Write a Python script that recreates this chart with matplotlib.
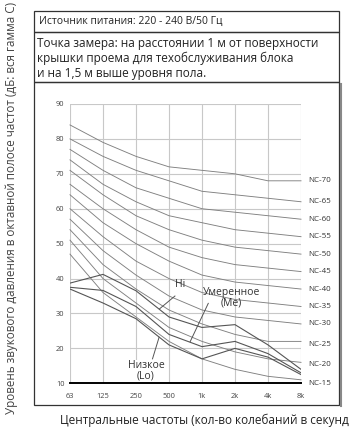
import numpy as np
import matplotlib
matplotlib.use("Agg")
from matplotlib import pyplot as plt
from matplotlib.patches import Rectangle
from matplotlib.lines import Line2D

plt.rcParams['font.family'] = ['Open Sans', 'DejaVu Sans']

# octave band centre frequencies
freq_labels = ["63", "125", "250", "500", "1k", "2k", "4k", "8k"]
y_ticks = [10, 20, 30, 40, 50, 60, 70, 80, 90]

# NC reference curves (dB)
nc_names = ["NC-70", "NC-65", "NC-60", "NC-55", "NC-50", "NC-45",
            "NC-40", "NC-35", "NC-30", "NC-25", "NC-20", "NC-15"]
nc_70 = [84, 79, 75, 72, 71, 70, 68, 68]
nc_65 = [80, 75, 71, 68, 65, 64, 63, 62]
nc_60 = [77, 71, 66, 63, 60, 59, 58, 57]
nc_55 = [74, 67, 62, 58, 56, 54, 53, 52]
nc_50 = [71, 64, 58, 54, 51, 49, 48, 47]
nc_45 = [67, 60, 54, 49, 46, 44, 43, 42]
nc_40 = [64, 56, 50, 45, 41, 39, 38, 37]
nc_35 = [60, 52, 45, 40, 36, 34, 33, 32]
nc_30 = [57, 48, 41, 35, 31, 29, 28, 27]
nc_25 = [54, 44, 37, 31, 27, 24, 22, 22]
nc_20 = [51, 40, 33, 26, 22, 19, 17, 16]
nc_15 = [47, 36, 29, 22, 17, 14, 12, 11]
nc_curves = [nc_70, nc_65, nc_60, nc_55, nc_50, nc_45,
             nc_40, nc_35, nc_30, nc_25, nc_20, nc_15]
# where the NC label sits vertically (slightly off the line end for the low ones)
nc_label_y = [68, 62, 57, 52, 47, 42, 37, 32, 27, 21, 15.5, 10]

# measured unit levels
hi_level = [38.7, 41.2, 36.5, 29, 26, 26.8, 21, 14]
me_level = [37.5, 36.6, 32, 24, 20.5, 22, 18.5, 13]
lo_level = [37, 33, 28.5, 21, 17, 20, 17.5, 12.5]

W, H = 349, 428
fig = plt.figure(figsize=(W / 100, H / 100), dpi=100)

def fx(px):
    return px / W

def fy(py):
    return 1 - py / H

# frame boxes
frame_col = "#333333"
for (y0, y1) in [(11, 32), (32, 82), (82, 405)]:
    fig.add_artist(Rectangle((fx(34), fy(y1)), fx(339) - fx(34), fy(y0) - fy(y1),
                             transform=fig.transFigure, fill=False,
                             edgecolor=frame_col, linewidth=0.9))
fig.add_artist(Line2D([fx(340.5), fx(340.5)], [fy(84), fy(406)],
                      transform=fig.transFigure, color="#888888", linewidth=1.5))

fig.text(fx(39), fy(21.5), "Источник питания: 220 - 240 В/50 Гц",
         fontsize=7.5, va="center", ha="left", color="#222222")
fig.text(fx(37), fy(58.5), "Точка замера: на расстоянии 1 м от поверхности\n"
         "крышки проема для техобслуживания блока\n"
         "и на 1,5 м выше уровня пола.",
         fontsize=8.5, va="center", ha="left", color="#222222", linespacing=1.18)

ax = fig.add_axes([fx(70), fy(383.3), fx(301) - fx(70), fy(104) - fy(383.3)])
x = np.arange(len(freq_labels))
ax.set_xlim(0, 7)
ax.set_ylim(10, 90)

for v in y_ticks:
    ax.axhline(v, color="#c8c8c8", linewidth=0.8, zorder=1)
for i in x:
    ax.axvline(i, color="#c8c8c8", linewidth=0.8, zorder=1)

for name, vals, ly in zip(nc_names, nc_curves, nc_label_y):
    ax.plot(x, vals, color="#808080", linewidth=0.65, zorder=2, clip_on=False)
    ax.text(7.22, ly, name, fontsize=5.8, va="center", ha="left", color="#333333")

for vals in [hi_level, me_level, lo_level]:
    ax.plot(x, vals, color="#555555", linewidth=0.8, zorder=3)

# series labels with leader lines
ax.text(3.33, 38.2, "Hi", fontsize=7.5, ha="center", va="center", color="#333333")
ax.plot([2.71, 3.18], [31.3, 35.0], color="#555555", linewidth=0.7)
ax.text(4.9, 34.4, "Умеренное\n(Me)", fontsize=7.5, ha="center", va="center",
        color="#333333", linespacing=0.95)
ax.plot([3.64, 4.19], [21.9, 32.9], color="#555555", linewidth=0.7)
ax.text(2.3, 13.6, "Низкое\n(Lo)", fontsize=7.5, ha="center", va="center",
        color="#333333", linespacing=0.95,
        bbox=dict(facecolor="white", edgecolor="none", pad=0.3))
ax.plot([2.5, 2.7], [17.0, 23.2], color="#555555", linewidth=0.7)

for s in ["top", "right", "left"]:
    ax.spines[s].set_visible(False)
ax.spines["bottom"].set_color("black")
ax.spines["bottom"].set_linewidth(1.4)
ax.set_xticks(x)
ax.set_xticklabels(freq_labels)
ax.set_yticks(y_ticks)
ax.tick_params(length=0, labelsize=5.4, colors="#444444", pad=7)
ax.tick_params(axis="y", pad=4)

fig.text(fx(12), fy(208), "Уровень звукового давления в октавной полосе частот (дБ: вся гамма С)",
         rotation=90, fontsize=8.4, va="center", ha="center", color="#444444")
fig.text(fx(60), fy(420), "Центральные частоты (кол-во колебаний в секунду)",
         fontsize=8.5, va="center", ha="left", color="#222222")

fig.savefig("out.png", dpi=100)
